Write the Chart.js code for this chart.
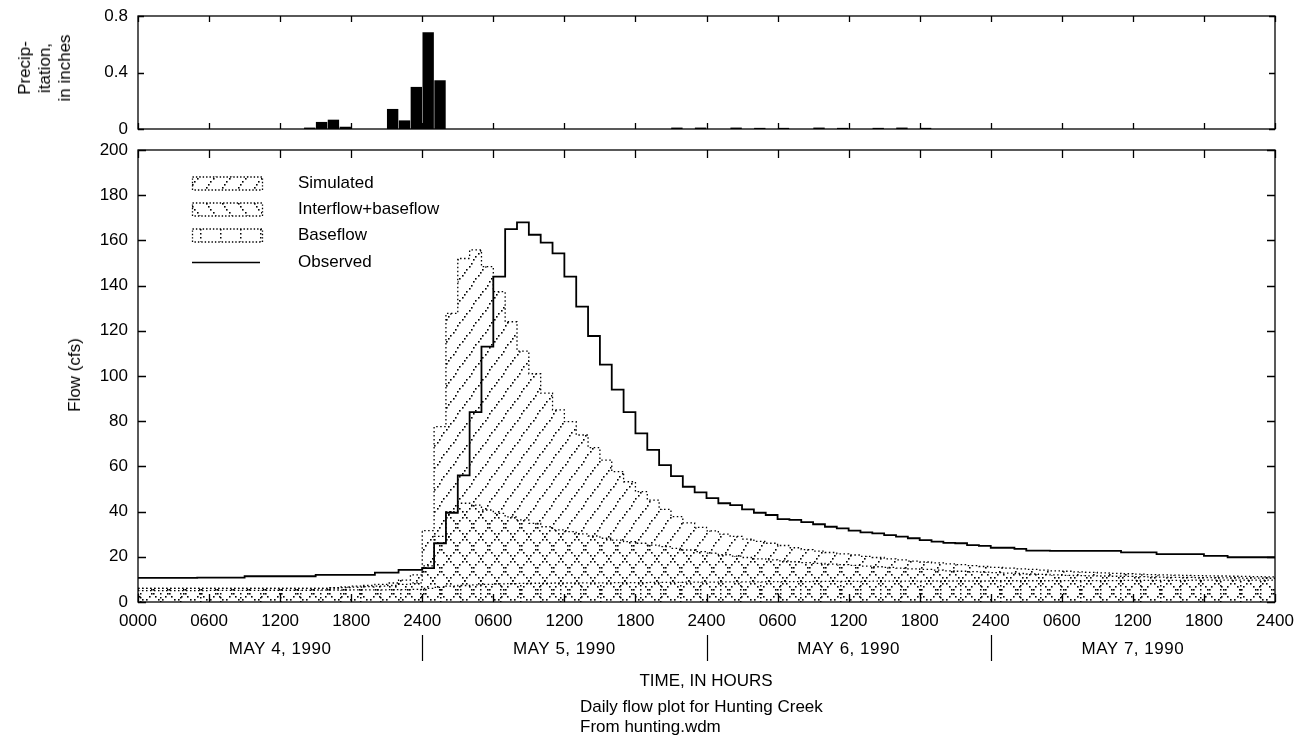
<!doctype html>
<html lang="en">

<head>
    <meta charset="UTF-8" />
    <title>Daily flow plot for Hunting Creek</title>
    <script src="https://cdn.jsdelivr.net/npm/chart.js"></script>
    <style>
        body {
            margin: 0;
            background: #fff;
            width: 1307px;
            height: 743px;
            position: relative;
            overflow: hidden;
            font-family: "Liberation Sans", Arial, sans-serif;
            color: #000;
        }

        canvas { position: absolute; left: 0; }
        #precipCanvas { top: 0; }
        #flowCanvas { top: 140px; }

        .txt {
            position: absolute;
            font-size: 17px;
            line-height: 20px;
            white-space: nowrap;
        }

        .rot {
            transform: translate(-50%, -50%) rotate(-90deg);
            text-align: center;
        }
    </style>
</head>

<body>
    <canvas id="precipCanvas" width="1307" height="140"></canvas>
    <canvas id="flowCanvas" width="1307" height="603"></canvas>

    <!-- axis titles -->
    <div class="txt rot" style="left:45px; top:68px;">Precip-<br>itation,<br>in inches</div>
    <div class="txt rot" style="left:75px; top:375px;">Flow (cfs)</div>

    <!-- legend text -->
    <div class="txt" style="left:298px; top:173px;">Simulated</div>
    <div class="txt" style="left:298px; top:199px;">Interflow+baseflow</div>
    <div class="txt" style="left:298px; top:225px;">Baseflow</div>
    <div class="txt" style="left:298px; top:252px;">Observed</div>

    <!-- bottom titles -->
    <div class="txt" style="left:706px; top:671px; transform:translateX(-50%);">TIME, IN HOURS</div>
    <div class="txt" style="left:580px; top:697px;">Daily flow plot for Hunting Creek</div>
    <div class="txt" style="left:580px; top:717px;">From hunting.wdm</div>

    <script>
        // hourly values, May 4 0000 to May 7 2400 (96 hours)
        const precip = [
            0, 0, 0, 0, 0, 0, 0, 0, 0, 0, 0, 0, 0, 0, 0.01, 0.05, 0.066, 0.016, 0, 0, 0, 0.142, 0.061, 0.298,
            0.685, 0.345, 0, 0, 0, 0, 0, 0, 0, 0, 0, 0, 0, 0, 0, 0, 0, 0, 0, 0, 0, 0.01, 0, 0.01,
            0, 0, 0.01, 0, 0.008, 0, 0.008, 0, 0, 0.01, 0, 0.008, 0, 0, 0.008, 0, 0.01, 0, 0.008, 0, 0, 0,
            0, 0, 0, 0, 0, 0, 0, 0, 0, 0, 0, 0, 0, 0, 0, 0, 0, 0, 0, 0, 0, 0, 0, 0, 0, 0
        ];

        const observed = [
            10.7, 10.7, 10.7, 10.7, 10.7, 10.8, 10.8, 10.8, 10.8, 11.4, 11.4, 11.4, 11.4, 11.4, 11.4, 12.0, 12.0, 12.0, 12.0, 12.0, 13.0, 13.0, 14.2, 14.2,
            15.0, 26, 39.5, 56, 84, 113, 144, 165, 168, 162.5, 159, 154.3, 144, 130.7, 117.7, 105, 94, 84, 74.6, 67.3, 60.6, 55.7, 51, 48.5,
            46, 43.7, 42.9, 41, 39.5, 38.5, 36.7, 36.3, 35.3, 34.4, 33.3, 32.6, 31.6, 30.8, 30.4, 29.6, 28.9, 28.2, 27.4, 26.7, 26.2, 26.0, 25.2, 24.8,
            24.0, 24.0, 23.5, 22.7, 22.7, 22.6, 22.6, 22.6, 22.6, 22.6, 22.6, 22.0, 22.0, 22.0, 21.2, 21.2, 21.2, 21.2, 20.4, 20.4, 19.8, 19.8, 19.8, 19.8
        ];

        const simulated = [
            6.0, 6.0, 6.0, 6.0, 6.0, 6.0, 6.0, 6.0, 6.0, 6.0, 6.0, 6.0, 6.0, 6.0, 6.0, 6.0, 6.3, 6.7, 7.0, 7.3, 7.8, 8.4, 9.7, 12,
            31.6, 77.6, 127.7, 152, 155.8, 148.4, 137.3, 124, 111, 101, 92.4, 85, 79.8, 73.9, 68.3, 62.8, 57.7, 53.2, 48.8, 45.1, 41, 37.8, 35, 33,
            31.5, 30, 29, 27.8, 26.8, 26, 25, 24, 23.2, 22.5, 21.9, 21.3, 20.8, 20.2, 19.7, 19.1, 18.6, 18.1, 17.7, 17.3, 16.9, 16.5, 16.1, 15.7,
            15.3, 15.0, 14.7, 14.4, 14.1, 13.8, 13.6, 13.3, 13.1, 12.9, 12.7, 12.5, 12.3, 12.1, 12.0, 11.9, 11.8, 11.7, 11.6, 11.5, 11.4, 11.3, 11.2, 11.1
        ];

        const interflow = [
            6.0, 6.0, 6.0, 6.0, 6.0, 6.0, 6.0, 6.0, 6.0, 6.0, 6.0, 6.0, 6.0, 6.0, 6.0, 6.0, 6.2, 6.4, 6.6, 6.8, 7.0, 7.3, 7.8, 8.5,
            16, 29, 40, 43.7, 42.9, 40.7, 39.2, 37.7, 36.3, 34.8, 33.3, 31.9, 31.1, 30.1, 29.2, 28.2, 27.4, 26.7, 26, 25.2, 24.5, 23.7, 23, 22.3,
            21.6, 20.9, 20.3, 19.7, 19.1, 18.6, 18.2, 17.8, 17.4, 17.1, 16.8, 16.5, 16.2, 15.9, 15.6, 15.3, 15.0, 14.7, 14.4, 14.1, 13.8, 13.6, 13.4, 13.2,
            13.0, 12.8, 12.6, 12.4, 12.2, 12.0, 11.8, 11.7, 11.6, 11.5, 11.4, 11.3, 11.2, 11.1, 11.0, 10.9, 10.9, 10.8, 10.8, 10.7, 10.7, 10.6, 10.6, 10.5
        ];

        const baseflow = [
            5.0, 5.0, 5.0, 5.0, 5.0, 5.0, 5.1, 5.1, 5.1, 5.1, 5.1, 5.2, 5.2, 5.2, 5.2, 5.3, 5.3, 5.3, 5.4, 5.4, 5.4, 5.5, 5.5, 5.6,
            6.0, 6.5, 7.0, 7.3, 7.6, 7.8, 8.0, 8.1, 8.2, 8.3, 8.3, 8.4, 8.4, 8.5, 8.5, 8.5, 8.6, 8.6, 8.6, 8.7, 8.7, 8.7, 8.8, 8.8,
            8.8, 8.9, 8.9, 8.9, 8.9, 9.0, 9.0, 9.0, 9.0, 9.1, 9.1, 9.1, 9.1, 9.1, 9.2, 9.2, 9.2, 9.2, 9.2, 9.3, 9.3, 9.3, 9.3, 9.3,
            9.4, 9.4, 9.4, 9.4, 9.4, 9.5, 9.5, 9.5, 9.5, 9.5, 9.5, 9.6, 9.6, 9.6, 9.6, 9.6, 9.6, 9.7, 9.7, 9.7, 9.7, 9.7, 9.7, 9.7
        ];

        const xTickLabels = ["0000", "0600", "1200", "1800", "2400", "0600", "1200", "1800", "2400",
            "0600", "1200", "1800", "2400", "0600", "1200", "1800", "2400"];
        const dayLabels = ["MAY 4, 1990", "MAY 5, 1990", "MAY 6, 1990", "MAY 7, 1990"];
        const flowTicks = [0, 20, 40, 60, 80, 100, 120, 140, 160, 180, 200];
        const precipTicks = [0, 0.4, 0.8];

        Chart.defaults.font.family = '"Liberation Sans", Arial, sans-serif';
        Chart.defaults.font.size = 17;
        Chart.defaults.color = "#000";

        // hourly steps: one point at the start of each hour, plus the closing edge
        function toSteps(values) {
            const pts = values.map((v, h) => ({ x: h, y: v }));
            pts.push({ x: values.length, y: values[values.length - 1] });
            return pts;
        }

        // dotted hatch tile: one dotted stroke across a w x h tile
        function hatch(w, h, dir) {
            const c = document.createElement("canvas");
            c.width = w;
            c.height = h;
            const g = c.getContext("2d");
            g.fillStyle = "#000";
            const n = 7;
            for (let k = 0; k < n; k++) {
                const px = Math.round(k * w / n);
                let py = Math.round(k * h / n);
                if (dir === "fwd") py = (h - py) % h;
                g.fillRect(px, py, 1.6, 1.6);
            }
            return g.createPattern(c, "repeat");
        }

        function vHatch(w, h) {
            const c = document.createElement("canvas");
            c.width = w;
            c.height = h;
            const g = c.getContext("2d");
            g.fillStyle = "#000";
            [1, 5, 9].forEach(y => g.fillRect(0, y, 1.5, 1.5));
            return g.createPattern(c, "repeat");
        }

        const patSim = hatch(16, 22, "fwd");
        const patInter = hatch(16, 22, "back");
        const patBase = vHatch(20, 12);

        // keep the plot area where it is: no room reserved for half labels
        function noLabelOverhang(s) {
            s.paddingTop = 0;
            s.paddingBottom = 0;
            s.paddingLeft = 0;
            s.paddingRight = 0;
        }

        const frameTicks = {
            id: "frameTicks",
            afterDraw(chart, args, opts) {
                const { ctx, chartArea: a, scales: { x, y } } = chart;
                const len = opts.len || 8;
                ctx.save();
                ctx.strokeStyle = "#000";
                ctx.lineWidth = 1.3;
                ctx.strokeRect(a.left, a.top, a.right - a.left, a.bottom - a.top);
                ctx.beginPath();
                x.ticks.forEach(t => {
                    const px = Math.round(x.getPixelForValue(t.value)) + 0.5;
                    ctx.moveTo(px, a.bottom); ctx.lineTo(px, a.bottom - len);
                    ctx.moveTo(px, a.top); ctx.lineTo(px, a.top + len);
                });
                y.ticks.forEach(t => {
                    const py = Math.round(y.getPixelForValue(t.value)) + 0.5;
                    ctx.moveTo(a.left, py); ctx.lineTo(a.left + len, py);
                    ctx.moveTo(a.right, py); ctx.lineTo(a.right - len, py);
                });
                ctx.stroke();
                ctx.restore();
            }
        };

        const dayRow = {
            id: "dayRow",
            afterDraw(chart) {
                const { ctx, chartArea: a, scales: { x } } = chart;
                ctx.save();
                ctx.fillStyle = "#000";
                ctx.font = '17px "Liberation Sans", Arial, sans-serif';
                ctx.letterSpacing = "0.5px";
                ctx.textAlign = "center";
                ctx.textBaseline = "middle";
                dayLabels.forEach((d, i) => {
                    ctx.fillText(d, x.getPixelForValue(12 + 24 * i), a.bottom + 47);
                });
                ctx.beginPath();
                ctx.lineWidth = 1.2;
                for (let i = 1; i < dayLabels.length; i++) {
                    const px = Math.round(x.getPixelForValue(24 * i)) + 0.5;
                    ctx.moveTo(px, a.bottom + 33);
                    ctx.lineTo(px, a.bottom + 59);
                }
                ctx.stroke();
                ctx.restore();
            }
        };

        const legendSwatches = {
            id: "legendSwatches",
            afterDraw(chart) {
                const ctx = chart.ctx;
                const left = 192, w = 70, h = 13;
                const rows = [[43, patSim], [69, patInter], [95, patBase]];
                ctx.save();
                rows.forEach(([cy, pat]) => {
                    ctx.fillStyle = pat;
                    ctx.fillRect(left, cy - h / 2, w, h);
                    ctx.setLineDash([1.4, 2]);
                    ctx.lineWidth = 1.3;
                    ctx.strokeStyle = "#000";
                    ctx.strokeRect(left + 0.5, cy - h / 2 + 0.5, w, h);
                });
                ctx.setLineDash([]);
                ctx.lineWidth = 1.6;
                ctx.beginPath();
                ctx.moveTo(left, 122.5);
                ctx.lineTo(left + 68, 122.5);
                ctx.stroke();
                ctx.restore();
            }
        };

        const xScaleBase = {
            type: "linear",
            min: 0,
            max: 96,
            offset: false,
            grid: { display: false },
            border: { display: false },
            ticks: {
                stepSize: 6,
                autoSkip: false,
                maxRotation: 0,
                padding: 1,
                callback: (v, i) => xTickLabels[i]
            }
        };

        // precipitation panel
        new Chart(document.getElementById("precipCanvas"), {
            type: "bar",
            data: {
                datasets: [{
                    data: precip.map((v, h) => ({ x: h + 0.5, y: v })),
                    backgroundColor: "#000",
                    borderWidth: 0,
                    barPercentage: 0.96,
                    categoryPercentage: 1
                }]
            },
            options: {
                responsive: false,
                animation: false,
                layout: { padding: { left: 0, right: 32, top: 16, bottom: 0 } },
                plugins: { legend: { display: false }, tooltip: { enabled: false }, frameTicks: { len: 6 } },
                scales: {
                    x: {
                        ...xScaleBase,
                        ticks: { ...xScaleBase.ticks, display: false },
                        afterFit: s => { noLabelOverhang(s); s.height = 11; }
                    },
                    y: {
                        min: 0,
                        max: 0.8,
                        grid: { display: false },
                        border: { display: false },
                        afterBuildTicks: s => { s.ticks = precipTicks.map(v => ({ value: v })); },
                        ticks: {
                            padding: 2,
                            callback: v => (v === 0 ? "0" : v.toFixed(1))
                        },
                        afterFit: s => { noLabelOverhang(s); s.width = 138; }
                    }
                }
            },
            plugins: [frameTicks]
        });

        // flow panel
        new Chart(document.getElementById("flowCanvas"), {
            type: "line",
            data: {
                datasets: [
                    {
                        label: "Baseflow",
                        data: toSteps(baseflow),
                        stepped: true,
                        borderColor: "#000",
                        borderWidth: 1.3,
                        borderDash: [1.5, 2.5],
                        backgroundColor: patBase,
                        fill: "origin",
                        pointRadius: 0,
                        order: 4
                    },
                    {
                        label: "Interflow+baseflow",
                        data: toSteps(interflow),
                        stepped: true,
                        borderColor: "#000",
                        borderWidth: 1.3,
                        borderDash: [1.5, 2.5],
                        backgroundColor: patInter,
                        fill: "origin",
                        pointRadius: 0,
                        order: 3
                    },
                    {
                        label: "Simulated",
                        data: toSteps(simulated),
                        stepped: true,
                        borderColor: "#000",
                        borderWidth: 1.3,
                        borderDash: [1.5, 2.5],
                        backgroundColor: patSim,
                        fill: "origin",
                        pointRadius: 0,
                        order: 2
                    },
                    {
                        label: "Observed",
                        data: toSteps(observed),
                        stepped: true,
                        borderColor: "#000",
                        borderWidth: 1.8,
                        fill: false,
                        pointRadius: 0,
                        order: 1
                    }
                ]
            },
            options: {
                responsive: false,
                animation: false,
                layout: { padding: { left: 0, right: 32, top: 10, bottom: 0 } },
                plugins: { legend: { display: false }, tooltip: { enabled: false }, frameTicks: { len: 8 } },
                scales: {
                    x: {
                        ...xScaleBase,
                        afterFit: s => { noLabelOverhang(s); s.height = 141; }
                    },
                    y: {
                        min: 0,
                        max: 200,
                        grid: { display: false },
                        border: { display: false },
                        afterBuildTicks: s => { s.ticks = flowTicks.map(v => ({ value: v })); },
                        ticks: { padding: 2 },
                        afterFit: s => { noLabelOverhang(s); s.width = 138; }
                    }
                }
            },
            plugins: [frameTicks, dayRow, legendSwatches]
        });
    </script>
</body>

</html>
